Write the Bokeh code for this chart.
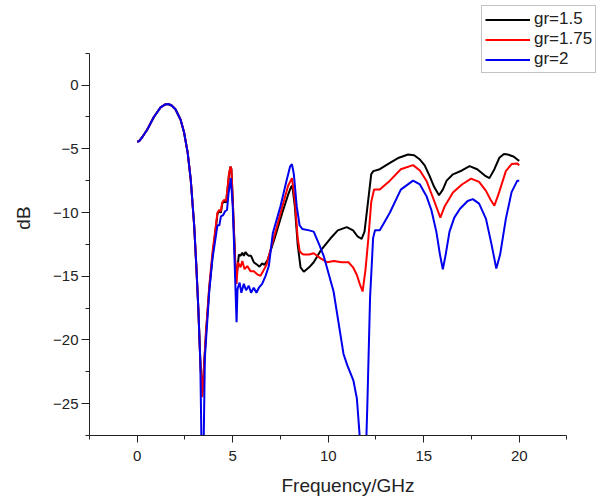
from bokeh.plotting import figure
from bokeh.models import Legend, LegendItem, SingleIntervalTicker, Range1d
from bokeh.embed import file_html
from bokeh.resources import INLINE

# shared low-frequency part (identical for all three)
x_common = [0, 0.1, 0.3, 0.52, 0.87, 1.22, 1.45, 1.62, 1.8, 2.0, 2.27, 2.45, 2.64, 2.8, 2.98, 3.1, 3.2, 3.3]
y_common = [-4.45, -4.4, -4.0, -3.5, -2.5, -1.75, -1.53, -1.48, -1.6, -1.9, -2.72, -3.7, -5.3, -7.4, -11.0, -14.4, -17.6, -21.6]

# gr=1.5
x_15 = [3.4, 3.5, 3.6, 3.77, 3.95, 4.1, 4.2, 4.3, 4.38, 4.45, 4.55, 4.65, 4.72, 4.8, 4.88, 4.93, 5.0, 5.08, 5.15, 5.2,
        5.32, 5.41, 5.5, 5.58, 5.67, 5.76, 5.84, 5.96, 6.1, 6.28, 6.4, 6.54, 6.66, 6.83, 7.2, 7.6, 7.9, 8.05, 8.12, 8.25,
        8.4, 8.55, 8.72, 9.0, 9.24, 9.6, 10.1, 10.5, 10.97, 11.3, 11.55, 11.75, 11.9, 12.1, 12.25, 12.36, 12.7, 13.23, 13.7, 14.18,
        14.5, 14.8, 15.05, 15.3, 15.55, 15.8, 16.0, 16.2, 16.53, 17.0, 17.4, 17.8, 18.2, 18.44, 18.7, 18.96, 19.2, 19.4, 19.7, 19.9, 20.0]
y_15 = [-24.4, -22.0, -19.5, -16.0, -13.3, -11.4, -10.1, -9.9, -10.0, -9.3, -9.1, -9.2, -8.3, -7.1, -6.4, -6.6, -9.0, -12.0, -14.5, -15.1,
        -13.3, -13.4, -13.15, -13.4, -13.1, -13.3, -13.4, -13.4, -13.9, -14.1, -14.25, -14.0, -14.1, -13.7, -12.0, -10.0, -8.6, -8.0, -7.9, -9.5,
        -12.5, -14.3, -14.65, -14.3, -13.9, -13.0, -12.06, -11.4, -11.15, -11.4, -11.9, -12.06, -11.5, -8.95, -7.0, -6.75, -6.6, -6.1, -5.7, -5.45,
        -5.5, -5.84, -6.3, -7.1, -8.0, -8.64, -8.2, -7.5, -7.0, -6.7, -6.36, -6.6, -7.1, -7.3, -6.6, -5.7, -5.4, -5.45, -5.6, -5.84, -5.95]

# gr=1.75
x_175 = [3.4, 3.5, 3.6, 3.77, 3.95, 4.1, 4.2, 4.3, 4.38, 4.45, 4.55, 4.65, 4.72, 4.8, 4.88, 4.93, 5.0, 5.08, 5.15, 5.2,
         5.27, 5.41, 5.5, 5.62, 5.76, 5.93, 6.1, 6.28, 6.45, 6.59, 6.77, 7.2, 7.6, 7.9, 8.1, 8.25, 8.4, 8.5, 8.6, 8.72,
         9.0, 9.24, 9.6, 9.93, 10.3, 10.7, 11.06, 11.3, 11.5, 11.65, 11.8, 11.95, 12.1, 12.25, 12.4, 12.7, 13.0, 13.23, 13.8, 14.44,
         14.8, 15.14, 15.5, 15.87, 16.1, 16.53, 17.0, 17.48, 17.9, 18.26, 18.5, 18.7, 18.95, 19.3, 19.6, 19.9, 20.0]
y_175 = [-24.5, -22.0, -19.3, -15.8, -13.0, -11.2, -10.0, -9.8, -9.9, -9.2, -9.0, -9.1, -8.2, -7.0, -6.4, -6.6, -9.0, -12.2, -14.8, -15.6,
         -13.9, -14.3, -13.8, -14.45, -14.2, -14.6, -14.6, -14.85, -14.97, -14.6, -14.1, -11.7, -9.5, -7.9, -7.3, -9.0, -12.0, -13.0, -13.2, -13.3,
         -13.3, -13.2, -13.6, -13.9, -13.8, -13.9, -13.9, -14.3, -14.9, -15.6, -16.2, -14.5, -12.06, -9.2, -8.2, -8.2, -7.8, -7.5, -6.6, -6.28,
         -6.7, -7.5, -8.9, -10.4, -9.5, -8.43, -7.8, -7.34, -7.6, -8.3, -9.0, -9.47, -8.4, -6.75, -6.2, -6.15, -6.3]

# gr=2
x_2 = [3.38, 3.46, 3.54, 3.77, 3.94, 4.1, 4.2, 4.3, 4.38, 4.5, 4.6, 4.7, 4.78, 4.9, 5.0, 5.06, 5.2, 5.25, 5.36, 5.45,
       5.58, 5.7, 5.84, 5.96, 6.1, 6.24, 6.37, 6.54, 6.72, 6.89, 7.1, 7.5, 7.8, 8.0, 8.1, 8.2, 8.35, 8.5, 8.65, 9.0,
       9.24, 9.55, 9.76, 10.28, 10.8, 11.0, 11.32, 11.5, 11.63, 11.75, 11.95, 12.05, 12.19, 12.35, 12.45, 12.7, 13.0, 13.23, 13.8, 14.44,
       14.8, 15.14, 15.4, 15.66, 15.85, 16.0, 16.15, 16.35, 16.6, 16.9, 17.3, 17.57, 17.9, 18.26, 18.55, 18.8, 19.0, 19.3, 19.6, 19.9, 20.0]
y_2 = [-30, -30, -21.4, -16.2, -13.6, -12.0, -11.0, -11.0, -10.3, -10.2, -9.9, -9.8, -8.5, -7.3, -9.5, -12.1, -18.6, -16.0, -15.5, -16.3,
       -15.6, -16.1, -15.75, -16.3, -15.9, -16.3, -15.9, -15.6, -14.97, -14.2, -11.6, -9.5, -7.6, -6.4, -6.2, -7.0, -9.5, -11.0, -11.3, -11.4,
       -11.5, -12.6, -13.4, -16.2, -21.1, -22.0, -23.2, -24.6, -27.2, -30, -30, -25, -16.7, -12.0, -11.4, -11.4, -10.6, -10.0, -8.2, -7.5,
       -7.8, -8.7, -9.8, -11.5, -13.3, -14.45, -13.3, -11.5, -10.4, -9.7, -9.1, -8.95, -9.3, -10.5, -12.5, -14.4, -13.3, -10.5, -8.4, -7.5, -7.5]

labels = ["gr=1.5", "gr=1.75", "gr=2"]
colors = ["#000000", "#ff0000", "#0000ee"]

FONT = "Liberation Sans"

# axes span x -2.5..22.5 and y -27.5..2.5; the frame is extended so the legend can sit above/right of them
p = figure(width=606, height=498, output_backend="svg", toolbar_location=None,
           x_range=Range1d(-2.5, 24.57), y_range=Range1d(-27.5, 6.64),
           min_border_left=89, min_border_right=0, min_border_top=0, min_border_bottom=61)
p.outline_line_color = None
p.grid.visible = False
p.background_fill_color = "white"

series = [(x_15, y_15), (x_175, y_175), (x_2, y_2)]
renderers = []
for (xs, ys), c in zip(series, colors):
    r = p.line(x_common + xs, y_common + ys, line_color=c, line_width=2)
    renderers.append(r)

for ax in (p.xaxis[0], p.yaxis[0]):
    ax.ticker = SingleIntervalTicker(interval=5, num_minor_ticks=2)
    ax.axis_line_color = "#222222"
    ax.major_tick_line_color = "#222222"
    ax.minor_tick_line_color = "#222222"
    ax.major_tick_in = 0
    ax.minor_tick_in = 0
    ax.minor_tick_out = 4
    ax.major_label_text_font = FONT
    ax.major_label_text_font_size = "15px"
    ax.major_label_text_color = "#222222"
    ax.axis_label_text_font = FONT
    ax.axis_label_text_font_size = "19px"
    ax.axis_label_text_font_style = "normal"
    ax.axis_label_text_color = "#222222"

p.xaxis.bounds = (-2.5, 22.5)
p.yaxis.bounds = (-27.5, 2.5)
p.xaxis.axis_label = "Frequency/GHz"
p.xaxis.major_tick_out = 7
p.xaxis.major_label_standoff = 8
p.xaxis.axis_label_standoff = 11
p.yaxis.axis_label = "dB"
p.yaxis.major_tick_out = 8
p.yaxis.major_label_standoff = 3
p.yaxis.axis_label_standoff = 16

legend = Legend(items=[LegendItem(label=l, renderers=[r]) for l, r in zip(labels, renderers)],
                location=(392, 362), orientation="vertical")
legend.glyph_width = 45
legend.glyph_height = 13
legend.label_height = 13
legend.label_standoff = 4
legend.padding = 3
legend.spacing = 0
legend.margin = 0
legend.border_line_color = "#888888"
legend.border_line_width = 1
legend.background_fill_color = "white"
legend.background_fill_alpha = 1
legend.label_text_font = FONT
legend.label_text_font_size = "17px"
legend.label_text_line_height = 0.76
legend.label_text_color = "#222222"
p.add_layout(legend)

open("out.html", "w").write(file_html(p, INLINE))
